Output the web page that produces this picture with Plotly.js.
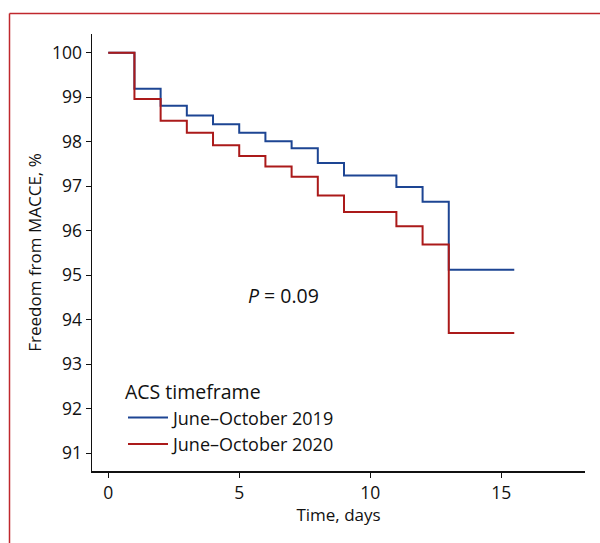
<!DOCTYPE html>
<html>
<head>
<meta charset="utf-8">
<script src="https://cdn.plot.ly/plotly-3.0.1.min.js"></script>
<style>
html,body{margin:0;padding:0;background:#fff;}
#chart{width:600px;height:543px;}
</style>
</head>
<body>
<div id="chart"></div>
<script>
// Kaplan–Meier: freedom from MACCE (%) by day
var days = [0, 1, 2, 3, 4, 5, 6, 7, 8, 9, 11, 12, 13, 15.5];
var freedom2019 = [100, 99.19, 98.81, 98.59, 98.39, 98.20, 98.01, 97.85, 97.52, 97.24, 96.98, 96.65, 95.12, 95.12];
var freedom2020 = [100, 98.96, 98.47, 98.20, 97.92, 97.68, 97.44, 97.21, 96.79, 96.42, 96.10, 95.69, 93.70, 93.70];
var seriesNames = ['June\u2013October 2019', 'June\u2013October 2020'];
var legendTitle = 'ACS timeframe';
var xTicks = [0, 5, 10, 15];
var yTicks = [91, 92, 93, 94, 95, 96, 97, 98, 99, 100];
var pText = '<i>P</i> = 0.09';

var FONT = 'Open Sans, Noto Sans, sans-serif';
var BLUE = '#1d4593';
var RED = '#ab1a1a';

var traces = [
  {x: days, y: freedom2019, name: seriesNames[0], type: 'scatter', mode: 'lines',
   line: {shape: 'hv', color: BLUE, width: 2}},
  {x: days, y: freedom2020, name: seriesNames[1], type: 'scatter', mode: 'lines',
   line: {shape: 'hv', color: RED, width: 2}}
];

var L = 92, R = 15, T = 34, B = 72;
var W = 600 - L - R, H = 543 - T - B;

var layout = {
  width: 600, height: 543,
  margin: {l: L, r: R, t: T, b: B, pad: 0},
  paper_bgcolor: '#fff', plot_bgcolor: '#fff',
  font: {family: FONT, size: 17, color: '#111'},
  showlegend: true,
  legend: {
    x: (128 - 5 - L) / W, y: (471 - 374) / H, xanchor: 'left', yanchor: 'top',
    bgcolor: 'rgba(0,0,0,0)', borderwidth: 0,
    title: {text: legendTitle, font: {family: FONT, size: 19.5, color: '#111'}},
    font: {family: FONT, size: 18, color: '#111'},
    tracegroupgap: 0, itemwidth: 40
  },
  xaxis: {
    range: [-0.62, 18.2], tickvals: xTicks, ticktext: xTicks.map(String),
    showgrid: false, zeroline: false, showline: true, linecolor: '#111', linewidth: 1.5,
    ticks: 'outside', ticklen: 5, tickwidth: 1, tickcolor: '#111',
    tickfont: {family: FONT, size: 17.5, color: '#111'},
    title: {text: 'Time, days', font: {family: FONT, size: 17, color: '#111'}, standoff: 6},
    automargin: false
  },
  yaxis: {
    range: [90.6, 100.42], tickvals: yTicks, ticktext: yTicks.map(String),
    showgrid: false, zeroline: false, showline: true, linecolor: '#111', linewidth: 1.5,
    ticks: 'outside', ticklen: 5, tickwidth: 1, tickcolor: '#111',
    tickfont: {family: FONT, size: 17.5, color: '#111'},
    title: {text: 'Freedom from MACCE, %', font: {family: FONT, size: 17, color: '#111'}, standoff: 6},
    automargin: false
  },
  annotations: [
    {x: 6.7, y: 94.55, xref: 'x', yref: 'y', text: pText, showarrow: false,
     font: {family: FONT, size: 19.5, color: '#111'}}
  ],
  shapes: [
    {type: 'line', xref: 'paper', yref: 'paper',
     x0: (9.5 - L) / W, x1: (9.5 - L) / W, y0: (543 - 13.5 - B) / H, y1: (0 - B - 5) / H,
     line: {color: '#c0282d', width: 1.5}},
    {type: 'line', xref: 'paper', yref: 'paper',
     x0: (9.5 - L) / W, x1: (605 - L) / W, y0: (543 - 13.5 - B) / H, y1: (543 - 13.5 - B) / H,
     line: {color: '#c0282d', width: 1.5}}
  ]
};

Plotly.newPlot('chart', traces, layout, {displayModeBar: false, staticPlot: true});
</script>
</body>
</html>
